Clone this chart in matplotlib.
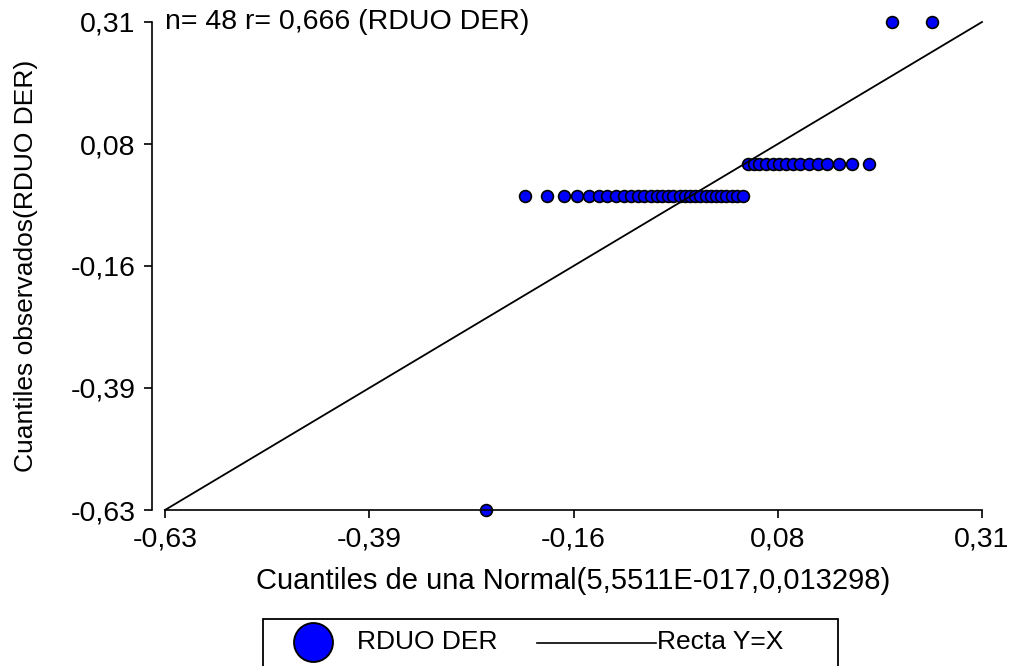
import numpy as np
import matplotlib
matplotlib.use("Agg")
import matplotlib.pyplot as plt
from matplotlib.patches import Rectangle
from matplotlib.lines import Line2D

plt.rcParams['font.family'] = ['Liberation Sans', 'DejaVu Sans']

# theoretical normal quantiles (x) and observed residuals (y), sorted
teorico = [-0.261, -0.216, -0.190, -0.171, -0.156, -0.142, -0.131, -0.121,
           -0.111, -0.102, -0.094, -0.086, -0.079, -0.071, -0.064, -0.058,
           -0.051, -0.045, -0.038, -0.032, -0.026, -0.020, -0.014, -0.008,
           -0.002, 0.004, 0.010, 0.016, 0.022, 0.028, 0.035, 0.041,
           0.048, 0.054, 0.061, 0.069, 0.076, 0.084, 0.092, 0.101,
           0.111, 0.121, 0.132, 0.146, 0.161, 0.180, 0.206, 0.252]
observado = [-0.63,
             -0.025, -0.025, -0.025, -0.025, -0.025, -0.025, -0.025, -0.025,
             -0.025, -0.025, -0.025, -0.025, -0.025, -0.025, -0.025, -0.025,
             -0.025, -0.025, -0.025, -0.025, -0.025, -0.025, -0.025, -0.025,
             -0.025, -0.025, -0.025, -0.025, -0.025, -0.025,
             0.037, 0.037, 0.037, 0.037, 0.037, 0.037, 0.037, 0.037,
             0.037, 0.037, 0.037, 0.037, 0.037, 0.037, 0.037,
             0.31, 0.31]
lim = [-0.63, 0.31]
tick_labels = ['-0,63', '-0,39', '-0,16', '0,08', '0,31']

W, H = 1010, 666
fig = plt.figure(figsize=(W / 100, H / 100), dpi=100)
ax = fig.add_axes([165 / W, 1 - 510 / H, (982 - 165) / W, (510 - 22) / H])

ax.plot(lim, lim, color='black', lw=1.3, zorder=3, clip_on=False)
ax.plot(teorico, observado, 'o', ms=8.5, mfc='#0000FF', mec='black', mew=1.2,
        zorder=2, clip_on=False)

ax.set_xlim(lim)
ax.set_ylim(lim)
ticks = np.linspace(lim[0], lim[1], 5)
ax.set_xticks(ticks, tick_labels)
ax.set_yticks(ticks, tick_labels)
ax.tick_params(labelsize=20.5, length=6, width=1.2, pad=6, colors='black')

for s in ['top', 'right']:
    ax.spines[s].set_visible(False)
ax.spines['left'].set_position(('outward', 9.4))
for s in ['left', 'bottom']:
    ax.spines[s].set_linewidth(1.2)

ax.set_xlabel('Cuantiles de una Normal(5,5511E-017,0,013298)', fontsize=21, labelpad=10)
ax.set_ylabel('Cuantiles observados(RDUO DER)', fontsize=19, labelpad=23)

ax.text(lim[0], lim[1], 'n= 48 r= 0,666 (RDUO DER)', fontsize=20.5,
        ha='left', va='center')

# legend box, cut off at the bottom like the original
fig.add_artist(Rectangle((263 / W, -0.05), (838 - 263) / W, (1 - 619 / H) + 0.05,
                         transform=fig.transFigure, fill=False,
                         edgecolor='black', lw=1.3))
fig.add_artist(Line2D([313 / W], [1 - 642 / H], marker='o', ms=28,
                      mfc='#0000FF', mec='black', mew=1.4,
                      transform=fig.transFigure))
fig.text(357 / W, 1 - 642 / H, 'RDUO DER', fontsize=19, va='center', ha='left')
fig.add_artist(Line2D([537 / W, 656 / W], [1 - 643 / H, 1 - 643 / H],
                      color='black', lw=1.2, transform=fig.transFigure))
fig.text(657 / W, 1 - 642 / H, 'Recta Y=X', fontsize=19, va='center', ha='left')

fig.savefig('out.png', dpi=100)
